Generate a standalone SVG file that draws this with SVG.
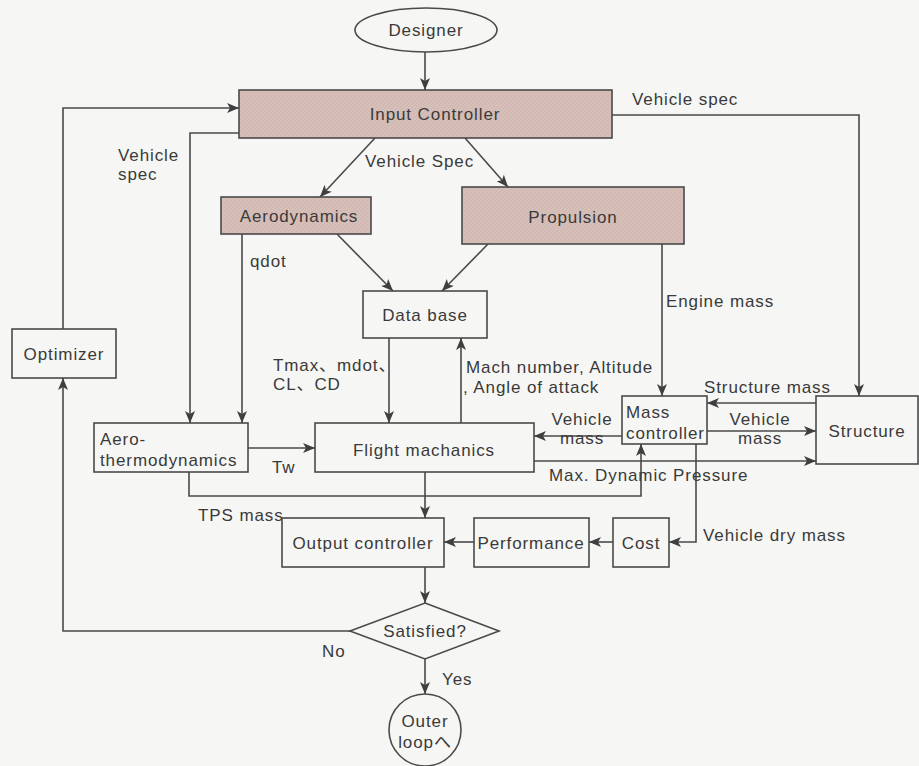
<svg xmlns="http://www.w3.org/2000/svg" width="919" height="766" viewBox="0 0 919 766">
<defs>
<marker id="ah" viewBox="0 0 12 10" refX="12" refY="5" markerWidth="12" markerHeight="10" markerUnits="userSpaceOnUse" orient="auto">
<path d="M0,0 L12,5 L0,10 L3,5 z" fill="#3f3f3f"/>
</marker>
<pattern id="hatch" width="4" height="4" patternUnits="userSpaceOnUse">
<rect width="4" height="4" fill="#d6bfb8"/>
<path d="M0,4 L4,0" stroke="#cdb3ab" stroke-width="0.8"/>
</pattern>
</defs>
<style>
text{font-family:"Liberation Sans","Noto Sans CJK JP",sans-serif;font-size:17px;letter-spacing:0.9px;fill:#3a3a3a}
.m{text-anchor:middle}
.box{fill:none;stroke:#4a4a4a;stroke-width:1.6}
.sh{fill:url(#hatch);stroke:#4a4a4a;stroke-width:1.6}
.c{fill:none;stroke:#4a4a4a;stroke-width:1.6}
.a{marker-end:url(#ah)}
</style>
<rect width="919" height="766" fill="#f6f6f4"/>
<g id="connectors">
<path class="c a" d="M425,52 V90"/>
<path class="c a" d="M63,329 V108 H239"/>
<path class="c a" d="M239,133 H190 V423"/>
<path class="c a" d="M375,138 L320,197"/>
<path class="c a" d="M465,138 L508,187"/>
<path class="c a" d="M612,115 H859 V396"/>
<path class="c a" d="M242,234 V423"/>
<path class="c a" d="M337,234 L393,291"/>
<path class="c a" d="M488,244 L442,291"/>
<path class="c a" d="M662,244 V396"/>
<path class="c a" d="M389,338 V423"/>
<path class="c a" d="M461,423 V338"/>
<path class="c a" d="M248,448 H315"/>
<path class="c a" d="M189,472 V496 H641 V444"/>
<path class="c a" d="M425,472 V518"/>
<path class="c a" d="M816,403 H707"/>
<path class="c a" d="M707,431 H816"/>
<path class="c a" d="M622,436 H534"/>
<path class="c a" d="M534,461 H816"/>
<path class="c a" d="M696,444 V542 H669"/>
<path class="c a" d="M613,542 H589"/>
<path class="c a" d="M474,542 H444"/>
<path class="c a" d="M425,567 V603"/>
<path class="c a" d="M350,631 H63 V378"/>
<path class="c a" d="M425,659 V694"/>
</g>
<g id="labels">
<text x="632" y="105">Vehicle spec</text>
<text x="118" y="161">Vehicle</text>
<text x="118" y="180">spec</text>
<text x="365" y="167">Vehicle Spec</text>
<text x="250" y="267">qdot</text>
<text x="666" y="307">Engine mass</text>
<text x="273" y="371">Tmax、mdot、</text>
<text x="273" y="390">CL、CD</text>
<text x="466" y="373">Mach number, Altitude</text>
<text x="463" y="393">, Angle of attack</text>
<text x="704" y="393">Structure mass</text>
<text class="m" x="760" y="425">Vehicle</text>
<text class="m" x="760" y="444">mass</text>
<text class="m" x="582" y="425">Vehicle</text>
<text class="m" x="582" y="444">mass</text>
<text x="549" y="481">Max. Dynamic Pressure</text>
<text x="272" y="473">Tw</text>
<text x="198" y="521">TPS mass</text>
<text x="703" y="541">Vehicle dry mass</text>
<text x="322" y="657">No</text>
<text x="442" y="685">Yes</text>
</g>
<g id="designer"><ellipse class="box" cx="426" cy="30" rx="71" ry="22"/><text class="m" x="426" y="36">Designer</text></g>
<g id="input-controller"><rect class="sh" x="239" y="90" width="373" height="48"/><text class="m" x="435" y="120">Input Controller</text></g>
<g id="aerodynamics"><rect class="sh" x="221" y="197" width="150" height="37"/><text class="m" x="299" y="222">Aerodynamics</text></g>
<g id="propulsion"><rect class="sh" x="462" y="187" width="222" height="57"/><text class="m" x="573" y="223">Propulsion</text></g>
<g id="database"><rect class="box" x="363" y="291" width="124" height="47"/><text class="m" x="425" y="321">Data base</text></g>
<g id="optimizer"><rect class="box" x="12" y="329" width="104" height="49"/><text class="m" x="64" y="360">Optimizer</text></g>
<g id="aerothermo"><rect class="box" x="94" y="423" width="154" height="49"/><text x="100" y="445">Aero-</text><text x="100" y="466">thermodynamics</text></g>
<g id="flight"><rect class="box" x="315" y="423" width="219" height="49"/><text class="m" x="424" y="456">Flight machanics</text></g>
<g id="mass-controller"><rect class="box" x="622" y="396" width="85" height="48"/><text x="626" y="418">Mass</text><text x="626" y="439">controller</text></g>
<g id="structure"><rect class="box" x="816" y="396" width="102" height="68"/><text class="m" x="867" y="437">Structure</text></g>
<g id="output-controller"><rect class="box" x="282" y="518" width="162" height="49"/><text class="m" x="363" y="549">Output controller</text></g>
<g id="performance"><rect class="box" x="474" y="518" width="115" height="49"/><text class="m" x="531" y="549">Performance</text></g>
<g id="cost"><rect class="box" x="613" y="518" width="56" height="49"/><text class="m" x="641" y="549">Cost</text></g>
<g id="satisfied"><polygon class="box" points="425,603 499,631 425,659 350,631"/><text class="m" x="425" y="637">Satisfied?</text></g>
<g id="outer-loop"><circle class="box" cx="425" cy="730" r="36"/><text class="m" x="425" y="727">Outer</text><text class="m" x="425" y="748">loopへ</text></g>
</svg>
